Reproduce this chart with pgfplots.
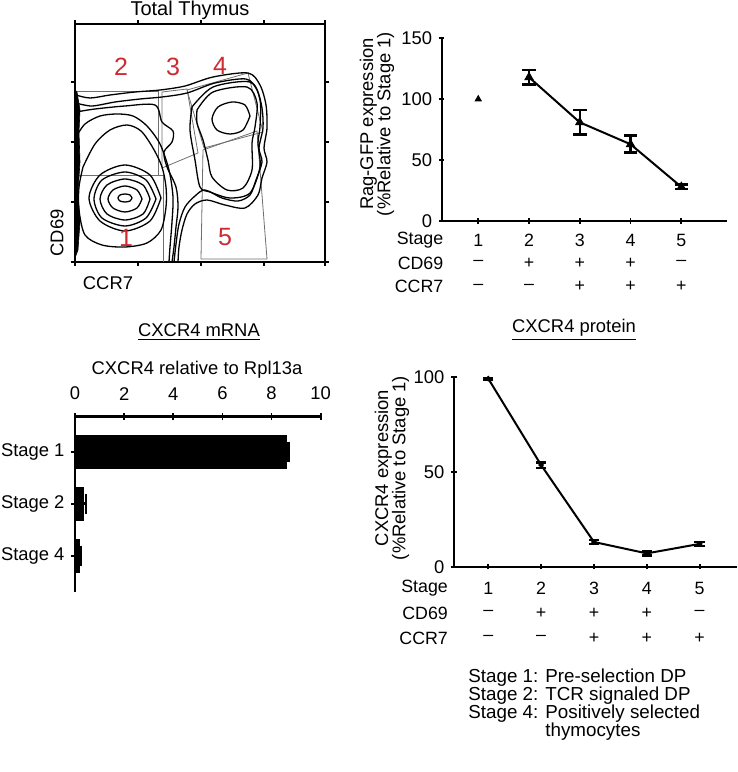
\documentclass[border=0pt]{standalone}
\usepackage{fontspec}
\setmainfont{Liberation Sans}
\usepackage{pgfplots}
\pgfplotsset{compat=1.18}
\definecolor{gatered}{RGB}{205,42,50}
\definecolor{gategray}{RGB}{110,110,110}

\newcommand{\fs}{\fontsize{9.2}{8.6}\selectfont}
\newcommand{\ft}{\fontsize{8.9}{10}\selectfont}
\newcommand{\mn}{\textendash}
\tikzset{lbl/.style={font=\fs}, tbl/.style={font=\ft},
  key/.style={font=\fontsize{9.4}{11}\selectfont, anchor=base west, inner sep=0pt},
  gnum/.style={gatered, font=\fontsize{12.5}{14}\selectfont}}
\pgfplotsset{
  panel/.style={scale only axis, anchor=south west,
    /pgf/number format/assume math mode=true,
    tick label style={font=\fs}, tick align=outside,
    tick style={black, line width=0.9pt}, major tick length=2.6pt},
  contour/.style={black, line width=0.65pt, smooth, no markers},
  gate/.style={gategray, line width=0.4pt, sharp plot, no markers},
}

\begin{document}
\begin{tikzpicture}
\useasboundingbox (0,0) rectangle (369pt,386pt);

% ---------- flow plot: Total Thymus ----------
\begin{axis}[panel, at={(37.5pt,255pt)}, width=125pt, height=119pt,
  xmin=0, xmax=250, ymin=0, ymax=238,
  xtick={0,63,126,189,250}, ytick={0,60,120,180},
  xticklabels={}, yticklabels={}, major tick length=2pt,
  axis line style={line width=0.6pt}, tick style={line width=0.6pt}]
% gates
\addplot[gate] coordinates {(0,171)(83,171)(83,87)(0,87)};
\addplot[gate] coordinates {(0,87)(88,87)(88,0)};
\addplot[gate] coordinates {(87,170)(112,173)(123,109)(87,94)(87,170)};
\addplot[gate] coordinates {(112,172)(173,189)(188,130)(129,114)(112,172)};
\addplot[gate] coordinates {(128,112)(182,131)(192,3)(126,3)(128,112)};
% stage 1 peak
\addplot[contour] coordinates {(57,64)(55,67)(50,68)(45,67)(43,64)(45,61)(50,60)(55,61)(57,64)};
\addplot[contour] coordinates {(67,63)(62,72)(50,76)(38,72)(33,63)(38,54)(50,50)(62,54)(67,63)};
\addplot[contour] coordinates {(75,63)(68,77)(50,83)(32,77)(25,63)(32,48)(50,42)(68,48)(75,63)};
\addplot[contour] coordinates {(81,63)(71,82)(50,90)(27,82)(19,63)(27,44)(50,36)(71,44)(81,63)};
\addplot[contour] coordinates {(86,64)(75,87)(50,97)(25,87)(14,64)(25,41)(50,31)(75,41)(86,64)};
% stage 1 + 2
\addplot[contour] coordinates {(8,95)(20,118)(35,132)(52,137)(66,131)(78,114)(87,95)(91,75)(91,55)(86,32)(72,19)(50,15)(27,17)(10,27)(4,52)(4,75)(8,95)};
\addplot[contour] coordinates {(1,125)(10,138)(25,146)(42,148)(58,146)(72,136)(85,118)(94,92)(98,65)(97,40)(95,15)(94,0)};
\addplot[contour] coordinates {(1,150)(20,153)(50,156)(80,157)(87,140)(98,131)(97,120)(89,110)(92,95)(101,75)(103,55)(101,35)(99,15)(97,0)};
% outer contours
\addplot[contour] coordinates {(1,159)(17,156)(40,160)(65,163)(87,165)(112,169)(140,179)(171,183)(182,172)(187,154)(188,134)(184,114)(187,100)(181,82)(175,67)(163,61)(147,64)(130,72)(120,66)(110,55)(104,38)(101,18)(99,0)};
\addplot[contour] coordinates {(1,167)(15,164)(35,167)(60,170)(85,172)(110,176)(138,185)(173,189)(185,177)(191,157)(192,134)(189,114)(192,100)(187,84)(183,67)(170,54)(150,57)(132,62)(120,58)(112,48)(107,32)(104,15)(103,0)};
% stage 4 / 5
\addplot[contour] coordinates {(175,146)(170,157)(157,160)(143,155)(137,143)(142,132)(155,128)(168,132)(175,146)};
\addplot[contour] coordinates {(122,152)(138,170)(172,175)(182,159)(180,135)(177,119)(177,92)(168,74)(152,72)(137,85)(133,102)(128,122)(122,139)(122,152)};
\addplot[contour] coordinates {(117,155)(138,175)(175,180)(185,162)(185,135)(183,119)(185,95)(175,69)(155,64)(135,70)(125,75)(120,102)(115,132)(117,155)};
% dense events on the axis
\addplot[fill=black, draw=black, line width=0.3pt, sharp plot] coordinates {(0,4)(3,12)(5,40)(3,70)(5,100)(4,130)(5,152)(2,170)(0,172)(0,4)};
% gate numbers
\node[gnum] at (axis cs:46,195) {2};
\node[gnum] at (axis cs:98,195) {3};
\node[gnum] at (axis cs:145,196) {4};
\node[gnum] at (axis cs:51,24) {1};
\node[gnum] at (axis cs:150,25) {5};
\end{axis}
\node[font=\fontsize{10}{12}\selectfont] at (95pt,381pt) {Total Thymus};
\node[lbl, rotate=90] at (28.5pt,269.5pt) {CD69};
\node[lbl] at (54pt,244.5pt) {CCR7};

% ---------- Rag-GFP ----------
\begin{axis}[panel, at={(220.85pt,275.5pt)}, width=142.65pt, height=91.35pt,
  xmin=0.28, xmax=5.9, ymin=0, ymax=150,
  axis lines=left, axis line style={-, line width=1pt},
  xtick={1,2,3,4,5}, xticklabels={}, ytick={0,50,100,150}, clip=false]
\addplot[only marks, mark=triangle*, mark size=1.8pt, black] coordinates {(1,100)};
\addplot[black, line width=1pt, mark=triangle*, mark size=1.8pt,
  error bars/.cd, y dir=both, y explicit,
  error bar style={line width=1.2pt},
  error mark options={rotate=90, line width=1.3pt, mark size=3.4pt}]
  coordinates {(2,118) +- (0,6) (3,81) +- (0,10) (4,63) +- (0,7) (5,28) +- (0,1.8)};
\node[tbl, anchor=east] at (axis cs:0.45,-15.6) {Stage};
\node[tbl, anchor=east] at (axis cs:0.45,-34.4) {CD69};
\node[tbl, anchor=east] at (axis cs:0.45,-54) {CCR7};
\node[tbl] at (axis cs:1,-15.6) {1};
\node[tbl] at (axis cs:2,-15.6) {2};
\node[tbl] at (axis cs:3,-15.6) {3};
\node[tbl] at (axis cs:4,-15.6) {4};
\node[tbl] at (axis cs:5,-15.6) {5};
\node[tbl] at (axis cs:1,-34.4) {\mn};
\node[tbl] at (axis cs:2,-34.4) {+};
\node[tbl] at (axis cs:3,-34.4) {+};
\node[tbl] at (axis cs:4,-34.4) {+};
\node[tbl] at (axis cs:5,-34.4) {\mn};
\node[tbl] at (axis cs:1,-54) {\mn};
\node[tbl] at (axis cs:2,-54) {\mn};
\node[tbl] at (axis cs:3,-54) {+};
\node[tbl] at (axis cs:4,-54) {+};
\node[tbl] at (axis cs:5,-54) {+};
\end{axis}
\node[lbl, rotate=90, align=center] at (188.5pt,324pt) {Rag-GFP expression\\(\%Relative to Stage 1)};

% ---------- CXCR4 mRNA ----------
\node[lbl] at (99.5pt,220pt) {\underline{CXCR4 mRNA}};
\node[lbl] at (98.5pt,201pt) {CXCR4 relative to Rpl13a};
\begin{axis}[panel, at={(37.5pt,90.15pt)}, width=122.85pt, height=87.5pt,
  xmin=0, xmax=10, ymin=0.327, ymax=3.69, y dir=reverse,
  axis x line=top, axis y line=left, axis line style={-, line width=1.3pt},
  xtick={0,2,4,6,8,10}, ytick={1,2,3}, yticklabels={Stage 1,Stage 2,Stage 4},
  xticklabel style={yshift=3pt},
  major tick length=3.5pt, clip=false]
\addplot[xbar, fill=black, draw=black, bar width=16.5pt,
  error bars/.cd, x dir=plus, x explicit,
  error bar style={line width=1.3pt},
  error mark options={rotate=90, line width=1.4pt, mark size=5pt}]
  coordinates {(8.59,1) +- (0.11,0) (0.34,2) +- (0.11,0) (0.16,3) +- (0.08,0)};
\end{axis}

% ---------- CXCR4 protein ----------
\node[lbl] at (287pt,221pt) {\underline{CXCR4 protein}};
\begin{axis}[panel, at={(227pt,102.65pt)}, width=141.35pt, height=95pt,
  xmin=0.352, xmax=5.7, ymin=0, ymax=100,
  axis lines=left, axis line style={-, line width=1pt},
  xtick={1,2,3,4,5}, xticklabels={}, ytick={0,50,100}, clip=false]
\addplot[black, line width=1pt, mark=*, mark size=0.8pt,
  error bars/.cd, y dir=both, y explicit,
  error bar style={line width=1.2pt},
  error mark options={rotate=90, line width=1.3pt, mark size=2.6pt}]
  coordinates {(1,99) +- (0,0.4) (2,53.5) +- (0,1.5) (3,13) +- (0,1) (4,7) +- (0,1) (5,12) +- (0,1)};
\node[tbl, anchor=east] at (axis cs:0.37,-11.2) {Stage};
\node[tbl, anchor=east] at (axis cs:0.37,-24.4) {CD69};
\node[tbl, anchor=east] at (axis cs:0.37,-37.6) {CCR7};
\node[tbl] at (axis cs:1,-11.2) {1};
\node[tbl] at (axis cs:2,-11.2) {2};
\node[tbl] at (axis cs:3,-11.2) {3};
\node[tbl] at (axis cs:4,-11.2) {4};
\node[tbl] at (axis cs:5,-11.2) {5};
\node[tbl] at (axis cs:1,-24.4) {\mn};
\node[tbl] at (axis cs:2,-24.4) {+};
\node[tbl] at (axis cs:3,-24.4) {+};
\node[tbl] at (axis cs:4,-24.4) {+};
\node[tbl] at (axis cs:5,-24.4) {\mn};
\node[tbl] at (axis cs:1,-37.6) {\mn};
\node[tbl] at (axis cs:2,-37.6) {\mn};
\node[tbl] at (axis cs:3,-37.6) {+};
\node[tbl] at (axis cs:4,-37.6) {+};
\node[tbl] at (axis cs:5,-37.6) {+};
\end{axis}
\node[lbl, rotate=90, align=center] at (196pt,152pt) {CXCR4 expression\\(\%Relative to Stage 1)};

% ---------- stage key ----------
\node[key] at (234pt,45pt) {Stage 1: Pre-selection DP};
\node[key] at (234pt,35.8pt) {Stage 2: TCR signaled DP};
\node[key] at (234pt,26.6pt) {Stage 4: Positively selected};
\node[key] at (234pt,17.6pt) {\phantom{Stage 4: }thymocytes};
\end{tikzpicture}
\end{document}
